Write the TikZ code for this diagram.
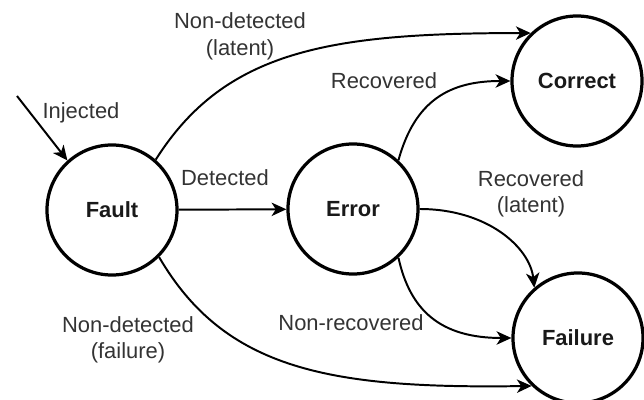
\documentclass[tikz,border=0pt]{standalone}
\usepackage{fontspec}
\setmainfont{Liberation Sans}
\usetikzlibrary{arrows.meta}
\begin{document}
\begin{tikzpicture}[x=0.025cm,y=-0.025cm,
  state/.style={circle,draw=black,line width=2.3pt,minimum size=3.25cm,inner sep=0pt,
    font=\fontsize{15.6}{18.8}\selectfont\bfseries,text=black!90},
  lbl/.style={font=\fontsize{15.6}{18.8}\selectfont,text=black!80,align=center,inner sep=0pt},
  conn/.style={line width=1.4pt,-{Stealth[length=10.5pt,width=9.5pt,inset=3pt]}}]
\useasboundingbox (0,0) rectangle (644,400);

% states
\node[state] (fault)   at (112,210) {Fault};
\node[state] (error)   at (353,209) {Error};
\node[state] (correct) at (577,81)  {Correct};
\node[state] (failure) at (578,338) {Failure};

% incoming transition
\coordinate (inj) at (17,96);
\draw[conn] (inj) -- (fault.132);

% transitions
\draw[conn] (fault) -- (error);
\draw[conn] (fault.49) .. controls (225,50) and (330,33) .. (correct.134);
\draw[conn] (fault.-45) .. controls (225,370) and (330,389) .. (failure.226);
\draw[conn] (error.47) .. controls (415,100) and (450,81) .. (correct.180);
\draw[conn] (error.0) .. controls (488,209) and (530,248) .. (failure.131);
\draw[conn] (error.-47) .. controls (410,310) and (440,338) .. (failure.180);

% transition labels
\node[lbl] (lInj)  at (81,113)  {Injected};
\node[lbl] (lDet)  at (225,178) {Detected};
\node[lbl] (lNdl)  at (240,36.5) {Non-detected\\(latent)};
\node[lbl] (lRec)  at (384,81)  {Recovered};
\node[lbl] (lRecl) at (531,194) {Recovered\\(latent)};
\node[lbl] (lNdf)  at (128,340) {Non-detected\\(failure)};
\node[lbl] (lNrec) at (351,323) {Non-recovered};
\end{tikzpicture}
\end{document}
